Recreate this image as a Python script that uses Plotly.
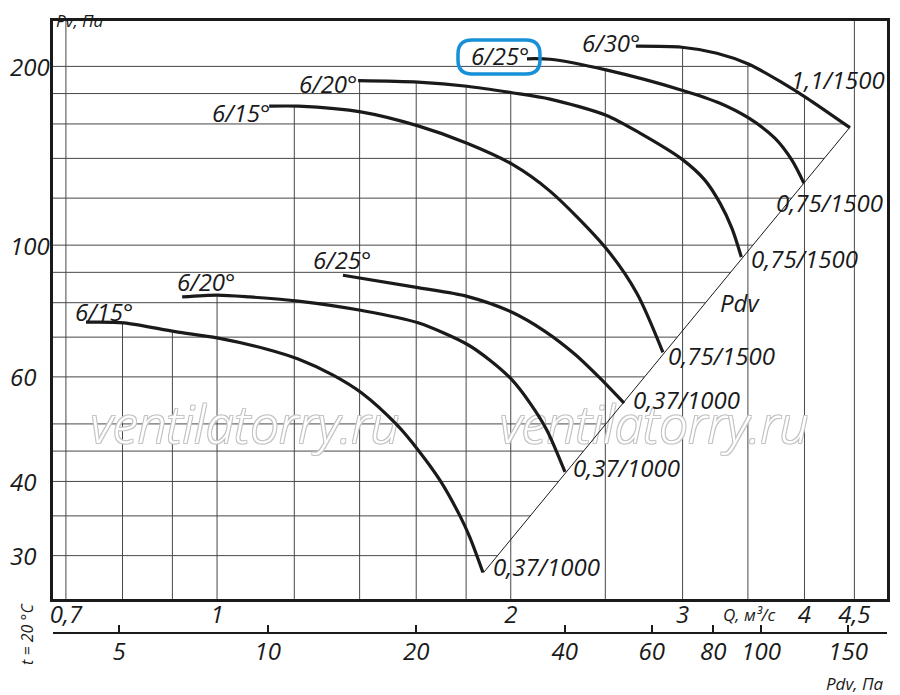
import numpy as np
import plotly.graph_objects as go

# Оси: расход Q (м3/с), давление Pv (Па), динамическое давление Pdv (Па)
Q_TICKS = [0.7, 1, 2, 3, 4, 4.5]
Q_TICK_TEXT = ["0,7", "1", "2", "3", "4", "4,5"]
Q_GRID = [0.7, 0.8, 0.9, 1, 1.2, 1.4, 1.6, 1.8, 2, 2.5, 3, 3.5, 4, 4.5]

PV_TICKS = [30, 40, 60, 100, 200]
PV_GRID = [30, 35, 40, 45, 50, 60, 70, 80, 90, 100, 120, 140, 160, 180, 200]

PDV_TICKS = [5, 10, 20, 40, 60, 80, 100, 150]

Q_RANGE = [0.679, 4.86]
PV_RANGE = [25.36, 238.5]
PDV_RANGE = [3.673, 179.9]

# 0,37 кВт / 1000 об/мин
q_1000_15 = [0.734, 0.803, 0.906, 1.0, 1.125, 1.211, 1.315, 1.408, 1.529, 1.607, 1.692, 1.774, 1.816, 1.873]
pv_1000_15 = [74.2, 74.0, 71.5, 69.8, 66.8, 64.3, 60.4, 56.3, 49.8, 45.2, 40.2, 35.0, 32.2, 28.1]

q_1000_20 = [0.921, 1.0, 1.081, 1.211, 1.408, 1.607, 1.804, 1.904, 2.006, 2.093, 2.178, 2.273]
pv_1000_20 = [81.8, 82.4, 81.8, 80.5, 77.6, 74.0, 68.1, 64.0, 59.3, 54.2, 48.8, 41.5]

q_1000_25 = [1.346, 1.607, 1.804, 2.006, 2.168, 2.327, 2.469, 2.613]
pv_1000_25 = [89.0, 84.8, 82.0, 77.1, 71.6, 65.5, 59.7, 54.2]

# 0,75 и 1,1 кВт / 1500 об/мин
q_1500_15 = [1.131, 1.211, 1.408, 1.607, 1.804, 2.006, 2.194, 2.504, 2.693, 2.864]
pv_1500_15 = [171.4, 171.4, 167.5, 158.8, 148.5, 136.9, 123.3, 98.8, 83.0, 66.0]

q_1500_20 = [1.395, 1.607, 1.804, 2.006, 2.194, 2.504, 2.713, 2.995, 3.162, 3.277, 3.370, 3.446]
pv_1500_20 = [189.2, 188.1, 185.2, 180.6, 176.2, 165.5, 154.4, 139.6, 128.7, 117.7, 106.8, 95.5]

q_1500_25 = [2.078, 2.194, 2.504, 2.995, 3.277, 3.509, 3.730, 3.883, 3.994]
pv_1500_25 = [206.0, 205.6, 197.3, 182.4, 173.4, 163.6, 151.4, 139.0, 127.2]

q_1500_30 = [2.687, 2.995, 3.253, 3.509, 3.802, 4.022, 4.453]
pv_1500_30 = [216.3, 215.4, 210.5, 201.7, 187.4, 176.9, 157.7]

# линия Pdv
pdv_line_q = [1.876, 4.453]
pdv_line_pv = [28.1, 158.0]

curves = [
    (q_1000_15, pv_1000_15, "6/15°", "0,37/1000"),
    (q_1000_20, pv_1000_20, "6/20°", "0,37/1000"),
    (q_1000_25, pv_1000_25, "6/25°", "0,37/1000"),
    (q_1500_15, pv_1500_15, "6/15°", "0,75/1500"),
    (q_1500_20, pv_1500_20, "6/20°", "0,75/1500"),
    (q_1500_25, pv_1500_25, "6/25°", "0,75/1500"),
    (q_1500_30, pv_1500_30, "6/30°", "1,1/1500"),
]

# сдвиги подписей (пиксели) от начала и конца кривой
start_shift = [(18, 11), (24, 15), (-1, 16), (-28, -6), (-30, -3), (-27, 3), (-25, 4)]
end_shift = [(64, 6), (62, 4), (62, 4), (59, -3), (63, -1), (26, -19), (-12, 48)]

FONT = "Open Sans"
INK = "#1a1a1a"
GRID = "#474747"

lg = np.log10


def curve_at(q, pv, x):
    # значение кривой в точке x (лог-лог), None если вне диапазона
    if x < q[0] or x > q[-1]:
        return None
    return 10 ** np.interp(lg(x), lg(q), lg(pv))


def right_end(q, pv, level):
    # самая правая точка, где кривая ещё не ниже level
    if pv[-1] >= level:
        return q[-1]
    for i in range(len(q) - 2, -1, -1):
        if pv[i] >= level > pv[i + 1]:
            t = (lg(level) - lg(pv[i])) / (lg(pv[i + 1]) - lg(pv[i]))
            return 10 ** (lg(q[i]) + t * (lg(q[i + 1]) - lg(q[i])))
    return None


def diag_q(level):
    slope = (lg(pdv_line_pv[1]) - lg(pdv_line_pv[0])) / (lg(pdv_line_q[1]) - lg(pdv_line_q[0]))
    return 10 ** (lg(pdv_line_q[0]) + (lg(level) - lg(pdv_line_pv[0])) / slope)


fig = go.Figure()

# сетка, обрезанная по рабочей области
gx, gy = [], []
for qv in Q_GRID:
    tops = [curve_at(q, pv, qv) for q, pv, _, _ in curves]
    tops = [t for t in tops if t is not None]
    top = max(tops) if tops else PV_RANGE[1]
    gx += [qv, qv, None]
    gy += [PV_RANGE[0], top, None]
for lv in PV_GRID:
    ends = [right_end(q, pv, lv) for q, pv, _, _ in curves]
    ends = [e for e in ends if e is not None]
    xr = diag_q(lv)
    if ends:
        xr = min(xr, max(ends))
    gx += [Q_RANGE[0], xr, None]
    gy += [lv, lv, None]

fig.add_trace(go.Scatter(x=gx, y=gy, mode="lines", line=dict(color=GRID, width=1),
                         hoverinfo="skip", showlegend=False))

# водяной знак
fig.add_trace(go.Scatter(
    x=[1.068, 2.805], y=[48.8, 48.8], mode="text",
    text=["ventilatorry.ru", "ventilatorry.ru"],
    textfont=dict(family=FONT, size=51, color="white", style="italic", weight=300,
                  shadow="-1px -1px 0 #c4c4c4, 1px -1px 0 #c4c4c4, -1px 1px 0 #c4c4c4, 1px 1px 0 #c4c4c4"),
    hoverinfo="skip", showlegend=False,
))

# линия Pdv
fig.add_trace(go.Scatter(x=pdv_line_q, y=pdv_line_pv, mode="lines",
                         line=dict(color=INK, width=1), hoverinfo="skip", showlegend=False))

for q, pv, _, _ in curves:
    fig.add_trace(go.Scatter(x=q, y=pv, mode="lines",
                             line=dict(color=INK, width=3.2, shape="spline", smoothing=0.8),
                             showlegend=False))

# невидимая трасса для второй оси Pdv
fig.add_trace(go.Scatter(x=PDV_TICKS, y=[50] * len(PDV_TICKS), xaxis="x2", yaxis="y",
                         mode="markers", marker=dict(opacity=0), hoverinfo="skip", showlegend=False))

label_font = dict(family=FONT, size=24, color=INK, style="italic")
small_font = dict(family=FONT, size=17, color=INK, style="italic")

annotations = []
for (q, pv, name, motor), (sx, sy), (ex, ey) in zip(curves, start_shift, end_shift):
    annotations.append(dict(x=lg(q[0]), y=lg(pv[0]), text=name, showarrow=False,
                            xanchor="center", yanchor="middle",
                            xshift=sx, yshift=sy, font=label_font))
    annotations.append(dict(x=lg(q[-1]), y=lg(pv[-1]), text=motor, showarrow=False,
                            xanchor="center", yanchor="middle",
                            xshift=ex, yshift=ey, font=label_font))

for v in PV_TICKS:
    annotations.append(dict(x=-0.0534, xref="paper", y=lg(v), yref="y", text=str(v),
                            xanchor="left", yanchor="middle", showarrow=False, font=label_font))

annotations += [
    dict(x=lg(3.435), y=lg(80.2), text="Pdv", showarrow=False, xanchor="center",
         yanchor="middle", font=label_font),
    dict(x=0.0024, xref="paper", y=1.0212, yref="paper", text="Pv, Па", xanchor="left",
         yanchor="top", borderpad=0, showarrow=False, font=small_font),
    dict(x=0.9976, xref="paper", y=-0.0833, yref="paper", text="Pdv, Па", xanchor="right",
         yanchor="middle", showarrow=False, font=small_font),
    dict(x=0.8357, xref="paper", y=0.031, yref="paper", text="Q, м³/с", xanchor="center",
         yanchor="middle", showarrow=False, font=small_font),
    dict(x=-0.0312, xref="paper", y=-0.0016, yref="paper", text="t = 20 °C", textangle=-90,
         xanchor="center", yanchor="middle", showarrow=False,
         font=dict(family=FONT, size=16, color=INK, style="italic")),
]

# синяя рамка вокруг 6/25°
x0, x1, y0, y1 = 0.4856, 0.5839, 0.9134, 0.9690
rx, ry = 0.0168, 0.0229
box_path = (f"M {x0 + rx},{y0} L {x1 - rx},{y0} Q {x1},{y0} {x1},{y0 + ry} "
            f"L {x1},{y1 - ry} Q {x1},{y1} {x1 - rx},{y1} L {x0 + rx},{y1} "
            f"Q {x0},{y1} {x0},{y1 - ry} L {x0},{y0 + ry} Q {x0},{y0} {x0 + rx},{y0} Z")

# страница добавляет поле 8 px, поэтому холст чуть меньше окна
fig.update_layout(
    width=892,
    height=687,
    margin=dict(l=45, r=13, t=13, b=62, autoexpand=False),
    plot_bgcolor="white",
    paper_bgcolor="white",
    showlegend=False,
    annotations=annotations,
    shapes=[dict(type="path", path=box_path, xref="paper", yref="paper",
                 line=dict(color="#1790d8", width=3.5), layer="above")],
    xaxis=dict(type="log", range=[lg(Q_RANGE[0]), lg(Q_RANGE[1])],
               tickvals=Q_TICKS, ticktext=Q_TICK_TEXT, tickfont=label_font,
               showgrid=False, zeroline=False, showline=True, mirror=True,
               linecolor=INK, linewidth=2.5, ticks="", automargin=False,
               ticklabelstandoff=-8),
    yaxis=dict(type="log", range=[lg(PV_RANGE[0]), lg(PV_RANGE[1])], domain=[0.0556, 1],
               showticklabels=False, showgrid=False, zeroline=False, showline=True,
               mirror=True, linecolor=INK, linewidth=2.5, ticks="", automargin=False),
    xaxis2=dict(type="log", range=[lg(PDV_RANGE[0]), lg(PDV_RANGE[1])],
                overlaying="x", anchor="free", position=0, side="bottom",
                tickvals=PDV_TICKS, ticktext=[str(v) for v in PDV_TICKS], tickfont=label_font,
                ticks="inside", ticklen=7, tickwidth=1.5, tickcolor=INK,
                showline=True, linecolor=INK, linewidth=2, showgrid=False, zeroline=False,
                ticklabelstandoff=-3, automargin=False),
)

fig.write_html("out.html")
